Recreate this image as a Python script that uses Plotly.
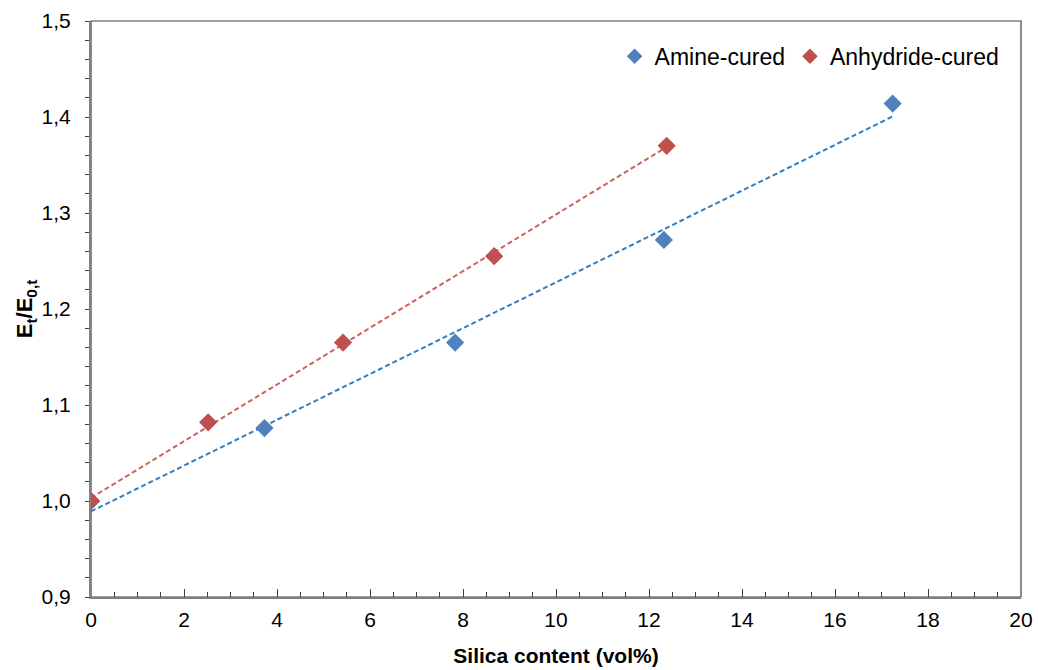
import numpy as np
import plotly.graph_objects as go

# Data
amine_x = [0.0, 3.73, 7.83, 12.32, 17.24]
amine_y = [1.000, 1.076, 1.165, 1.272, 1.414]
anhyd_x = [0.0, 2.52, 5.42, 8.67, 12.38]
anhyd_y = [1.000, 1.082, 1.165, 1.255, 1.370]

series_names = ["Amine-cured", "Anhydride-cured"]
marker_colors = ["#4F81BD", "#C0504D"]
trend_colors = ["#2E7EC0", "#D0605C"]

FONT = "Liberation Sans, Arial, sans-serif"

fig = go.Figure()

for xs, ys, tc in [(amine_x, amine_y, trend_colors[0]), (anhyd_x, anhyd_y, trend_colors[1])]:
    slope, icpt = np.polyfit(xs, ys, 1)
    tx = np.array([min(xs), max(xs)])
    fig.add_trace(go.Scatter(x=tx, y=slope * tx + icpt, mode="lines",
                             line=dict(color=tc, width=2, dash="5px,3px"),
                             showlegend=False, hoverinfo="skip"))

for xs, ys, name, mc in [(amine_x, amine_y, series_names[0], marker_colors[0]),
                         (anhyd_x, anhyd_y, series_names[1], marker_colors[1])]:
    fig.add_trace(go.Scatter(x=xs, y=ys, mode="markers", name=name,
                             marker=dict(symbol="diamond", size=14, color=mc,
                                         line=dict(width=0))))

fig.update_layout(
    width=1038, height=670,
    margin=dict(l=91, r=17, t=21, b=73),
    paper_bgcolor="white", plot_bgcolor="white",
    separators=",.",
    font=dict(family=FONT, size=21, color="#000000"),
    showlegend=True,
    legend=dict(orientation="h", x=0.563, y=0.976, xanchor="left", yanchor="top",
                font=dict(size=23, family=FONT), bgcolor="rgba(0,0,0,0)",
                itemwidth=30, itemsizing="constant", tracegroupgap=0),
    shapes=[dict(type="rect", xref="paper", yref="paper", x0=0, x1=1, y0=0, y1=1,
                 line=dict(color="#404040", width=1.2), layer="below")],
)

fig.update_xaxes(
    range=[0, 20], dtick=2, tick0=0, tickformat="d",
    showgrid=False, zeroline=False, automargin=False,
    showline=True, linecolor="#808080", linewidth=2,
    ticks="inside", ticklen=8, tickwidth=1, tickcolor="#404040",
    ticklabelstandoff=3,
    minor=dict(dtick=0.5, ticks="inside", ticklen=5, tickwidth=1, tickcolor="#404040"),
    tickfont=dict(size=21, family=FONT, color="#000000"),
    title=dict(text="<b>Silica content (vol%)</b>", font=dict(size=21, family=FONT), standoff=18),
)
fig.update_yaxes(
    range=[0.9, 1.5], dtick=0.1, tick0=0.9, tickformat=".1f",
    showgrid=False, zeroline=False, automargin=False,
    showline=True, linecolor="#808080", linewidth=2,
    ticks="outside", ticklen=4, tickwidth=1, tickcolor="#404040",
    ticklabelstandoff=10,
    minor=dict(dtick=0.02, ticks="outside", ticklen=4, tickwidth=1, tickcolor="#404040"),
    tickfont=dict(size=21, family=FONT, color="#000000"),
    title=dict(text="<b>E<sub>t</sub>/E<sub>0,t</sub></b>", font=dict(size=22, family=FONT), standoff=3),
)

fig.write_html("out.html", config={"displayModeBar": False},
               post_script="document.body.style.margin='0';document.body.style.overflow='hidden';")
